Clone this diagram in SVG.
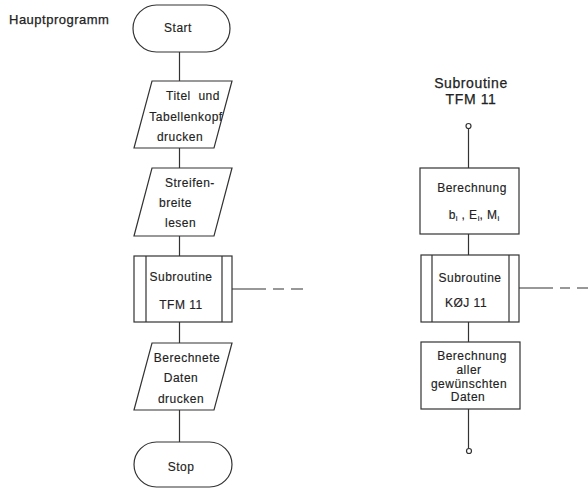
<svg xmlns="http://www.w3.org/2000/svg" width="588" height="490" viewBox="0 0 588 490">
<style>
.s{fill:#fff;stroke:#333;stroke-width:1.2}
.c{fill:none;stroke:#333;stroke-width:1.2}
text{font-family:"Liberation Sans",Arial,sans-serif;font-size:12px;fill:#222;letter-spacing:0.5px;stroke:#222;stroke-width:0.15}
.m{text-anchor:middle}
.t{font-size:13px;stroke-width:0.25}
.h{font-size:14px;text-anchor:middle;letter-spacing:0.6px;stroke-width:0.25}
.sub{font-size:8px;letter-spacing:0}
</style>
<rect width="588" height="490" fill="#fff"/>
<g id="connectors">
<path class="c" d="M179.5 52V81M179.5 148V168M179.5 236V256M179.5 322V343M179.5 410V442"/>
<path class="c" d="M232 289H266M273 289H284M291 289H303"/>
<path class="c" d="M468.5 128.5V168M468.5 234V255M468.5 322V342M468.5 409V448.5"/>
<path class="c" d="M519 288H553M560 288H570M577 288H588"/>
</g>
<g id="title-main"><text class="t" x="9" y="24">Hauptprogramm</text></g>
<g id="start">
<rect class="s" x="133" y="5" width="97" height="47" rx="23.5"/>
<text class="m" x="178" y="32">Start</text>
</g>
<g id="titel">
<polygon class="s" points="152,81 232,81 214,148 134,148"/>
<text class="m" x="193" y="100" xml:space="preserve">Titel  und</text>
<text class="m" x="186" y="121">Tabellenkopf</text>
<text class="m" x="180" y="141">drucken</text>
</g>
<g id="streifen">
<polygon class="s" points="152,168 232,168 214,236 134,236"/>
<text x="165" y="187">Streifen-</text>
<text x="159" y="207">breite</text>
<text x="165" y="227">lesen</text>
</g>
<g id="sub-tfm">
<rect class="s" x="134" y="256" width="98" height="66"/>
<path class="c" d="M146 256V322M222 256V322"/>
<text class="m" x="181" y="281">Subroutine</text>
<text class="m" x="181" y="309">TFM 11</text>
</g>
<g id="ausgabe">
<polygon class="s" points="152,343 232,343 214,410 134,410"/>
<text class="m" x="187" y="362">Berechnete</text>
<text class="m" x="181" y="382">Daten</text>
<text class="m" x="181" y="403">drucken</text>
</g>
<g id="stop">
<rect class="s" x="134" y="442" width="98" height="45" rx="22.5"/>
<text class="m" x="181" y="471">Stop</text>
</g>
<g id="title-sub">
<text class="h" x="471" y="88">Subroutine</text>
<text class="h" x="471" y="104">TFM 11</text>
</g>
<g id="entry"><circle class="s" cx="468.5" cy="126" r="2.5"/></g>
<g id="berechnung1">
<rect class="s" x="420" y="168" width="99" height="66"/>
<text class="m" x="472" y="192">Berechnung</text>
<text class="m" x="474" y="219">b<tspan class="sub" dy="2">i</tspan><tspan dy="-2"> , E</tspan><tspan class="sub" dy="2">i</tspan><tspan dy="-2">, M</tspan><tspan class="sub" dy="2">i</tspan></text>
</g>
<g id="sub-koj">
<rect class="s" x="421" y="255" width="98" height="67"/>
<path class="c" d="M432 255V322M509 255V322"/>
<text class="m" x="470" y="282">Subroutine</text>
<text class="m" x="466" y="307">KØJ 11</text>
</g>
<g id="berechnung2">
<rect class="s" x="421" y="342" width="99" height="67"/>
<text class="m" x="472" y="360">Berechnung</text>
<text class="m" x="469" y="374">aller</text>
<text class="m" x="469" y="388">gewünschten</text>
<text class="m" x="468" y="401">Daten</text>
</g>
<g id="exit"><circle class="s" cx="469" cy="451" r="2.5"/></g>
</svg>
